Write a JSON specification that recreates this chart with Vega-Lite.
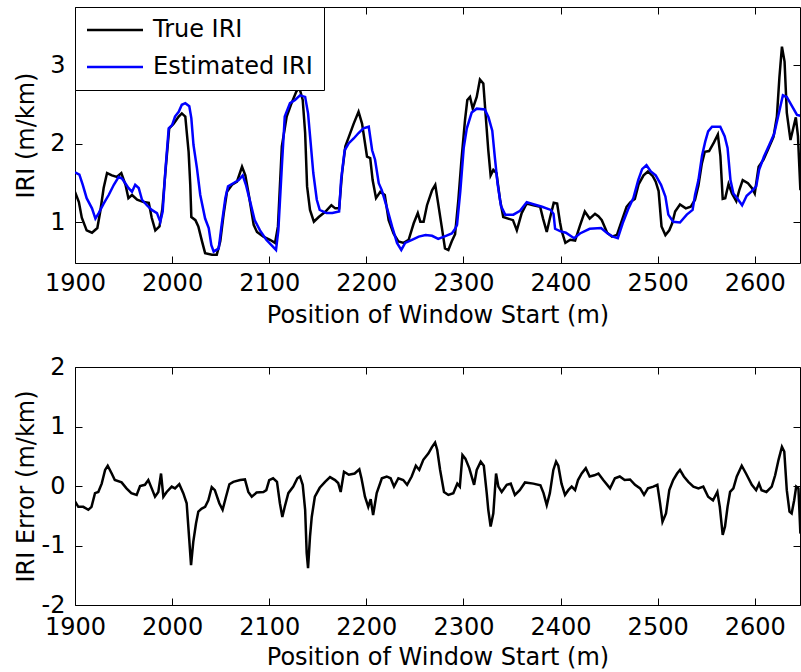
{
"$schema": "https://vega.github.io/schema/vega-lite/v6.json",
"background": "white",
"padding": {"left": 13, "top": 6, "right": 0, "bottom": 0},
"config": {
  "font": "DejaVu Sans",
  "view": {"stroke": "black", "strokeWidth": 1},
  "concat": {"spacing": 26},
  "axis": {"labelFont": "DejaVu Sans", "labelFontSize": 24, "labelColor": "black", "titleFont": "DejaVu Sans", "titleFontSize": 24, "titleFontWeight": "normal", "titleColor": "black", "tickColor": "black", "tickSize": -7, "tickWidth": 1, "grid": false, "domain": false, "labelFlush": false, "labelOverlap": false, "labelExpr": "'' + datum.value"}
},
"datasets": {
"iri": [
{"p":1900,"v":1.39,"s":"True IRI"},{"p":1904,"v":1.26,"s":"True IRI"},{"p":1907,"v":1.06,"s":"True IRI"},{"p":1912,"v":0.90,"s":"True IRI"},{"p":1917.5,"v":0.87,"s":"True IRI"},{"p":1923,"v":0.93,"s":"True IRI"},{"p":1926,"v":1.14,"s":"True IRI"},{"p":1929.5,"v":1.44,"s":"True IRI"},{"p":1933,"v":1.63,"s":"True IRI"},{"p":1938,"v":1.60,"s":"True IRI"},{"p":1943,"v":1.58,"s":"True IRI"},{"p":1947.7,"v":1.63,"s":"True IRI"},{"p":1952,"v":1.48,"s":"True IRI"},{"p":1955,"v":1.31,"s":"True IRI"},{"p":1958.7,"v":1.35,"s":"True IRI"},{"p":1964,"v":1.29,"s":"True IRI"},{"p":1970.7,"v":1.26,"s":"True IRI"},{"p":1976,"v":1.25,"s":"True IRI"},{"p":1979,"v":1.06,"s":"True IRI"},{"p":1982.7,"v":0.90,"s":"True IRI"},{"p":1987,"v":0.95,"s":"True IRI"},{"p":1990,"v":1.18,"s":"True IRI"},{"p":1993.7,"v":1.73,"s":"True IRI"},{"p":1997,"v":2.20,"s":"True IRI"},{"p":2001.6,"v":2.26,"s":"True IRI"},{"p":2006.8,"v":2.35,"s":"True IRI"},{"p":2010,"v":2.39,"s":"True IRI"},{"p":2013.6,"v":2.35,"s":"True IRI"},{"p":2015,"v":2.16,"s":"True IRI"},{"p":2017,"v":1.90,"s":"True IRI"},{"p":2018.7,"v":1.48,"s":"True IRI"},{"p":2019.8,"v":1.07,"s":"True IRI"},{"p":2024,"v":1.03,"s":"True IRI"},{"p":2027,"v":0.95,"s":"True IRI"},{"p":2030.8,"v":0.76,"s":"True IRI"},{"p":2034,"v":0.61,"s":"True IRI"},{"p":2041,"v":0.59,"s":"True IRI"},{"p":2046,"v":0.59,"s":"True IRI"},{"p":2049.6,"v":0.76,"s":"True IRI"},{"p":2053,"v":1.10,"s":"True IRI"},{"p":2056.5,"v":1.39,"s":"True IRI"},{"p":2061.7,"v":1.48,"s":"True IRI"},{"p":2066.8,"v":1.52,"s":"True IRI"},{"p":2072,"v":1.71,"s":"True IRI"},{"p":2075.4,"v":1.60,"s":"True IRI"},{"p":2079,"v":1.35,"s":"True IRI"},{"p":2084,"v":0.97,"s":"True IRI"},{"p":2087.4,"v":0.88,"s":"True IRI"},{"p":2094,"v":0.82,"s":"True IRI"},{"p":2100.8,"v":0.78,"s":"True IRI"},{"p":2106,"v":0.74,"s":"True IRI"},{"p":2109,"v":0.95,"s":"True IRI"},{"p":2113,"v":1.97,"s":"True IRI"},{"p":2118,"v":2.35,"s":"True IRI"},{"p":2123,"v":2.52,"s":"True IRI"},{"p":2128,"v":2.67,"s":"True IRI"},{"p":2131,"v":2.72,"s":"True IRI"},{"p":2134.5,"v":2.56,"s":"True IRI"},{"p":2137,"v":2.14,"s":"True IRI"},{"p":2139,"v":1.46,"s":"True IRI"},{"p":2142,"v":1.16,"s":"True IRI"},{"p":2146,"v":1.01,"s":"True IRI"},{"p":2151,"v":1.07,"s":"True IRI"},{"p":2158,"v":1.14,"s":"True IRI"},{"p":2164,"v":1.22,"s":"True IRI"},{"p":2168,"v":1.18,"s":"True IRI"},{"p":2172,"v":1.18,"s":"True IRI"},{"p":2175,"v":1.63,"s":"True IRI"},{"p":2178.4,"v":1.97,"s":"True IRI"},{"p":2182,"v":2.09,"s":"True IRI"},{"p":2187,"v":2.26,"s":"True IRI"},{"p":2192,"v":2.41,"s":"True IRI"},{"p":2195.6,"v":2.26,"s":"True IRI"},{"p":2200.7,"v":1.84,"s":"True IRI"},{"p":2204,"v":1.82,"s":"True IRI"},{"p":2206.5,"v":1.54,"s":"True IRI"},{"p":2210,"v":1.31,"s":"True IRI"},{"p":2214.4,"v":1.39,"s":"True IRI"},{"p":2219,"v":1.35,"s":"True IRI"},{"p":2223,"v":1.03,"s":"True IRI"},{"p":2228,"v":0.86,"s":"True IRI"},{"p":2233,"v":0.76,"s":"True IRI"},{"p":2238.5,"v":0.74,"s":"True IRI"},{"p":2243.6,"v":0.78,"s":"True IRI"},{"p":2248.8,"v":0.99,"s":"True IRI"},{"p":2253,"v":1.12,"s":"True IRI"},{"p":2255.6,"v":1.01,"s":"True IRI"},{"p":2259,"v":1.01,"s":"True IRI"},{"p":2262.5,"v":1.22,"s":"True IRI"},{"p":2267.7,"v":1.41,"s":"True IRI"},{"p":2271,"v":1.48,"s":"True IRI"},{"p":2274,"v":1.24,"s":"True IRI"},{"p":2277.6,"v":0.95,"s":"True IRI"},{"p":2281,"v":0.67,"s":"True IRI"},{"p":2284.5,"v":0.65,"s":"True IRI"},{"p":2288,"v":0.76,"s":"True IRI"},{"p":2291.4,"v":0.85,"s":"True IRI"},{"p":2294.8,"v":1.29,"s":"True IRI"},{"p":2298,"v":1.80,"s":"True IRI"},{"p":2301.6,"v":2.30,"s":"True IRI"},{"p":2304,"v":2.56,"s":"True IRI"},{"p":2306.8,"v":2.60,"s":"True IRI"},{"p":2309.6,"v":2.45,"s":"True IRI"},{"p":2313.7,"v":2.60,"s":"True IRI"},{"p":2317,"v":2.82,"s":"True IRI"},{"p":2320.5,"v":2.77,"s":"True IRI"},{"p":2323,"v":2.35,"s":"True IRI"},{"p":2325.6,"v":1.92,"s":"True IRI"},{"p":2328,"v":1.60,"s":"True IRI"},{"p":2330.8,"v":1.67,"s":"True IRI"},{"p":2334,"v":1.63,"s":"True IRI"},{"p":2337.7,"v":1.29,"s":"True IRI"},{"p":2341,"v":1.07,"s":"True IRI"},{"p":2346,"v":1.05,"s":"True IRI"},{"p":2351,"v":1.03,"s":"True IRI"},{"p":2355,"v":0.90,"s":"True IRI"},{"p":2360,"v":1.12,"s":"True IRI"},{"p":2365,"v":1.24,"s":"True IRI"},{"p":2372,"v":1.22,"s":"True IRI"},{"p":2379,"v":1.20,"s":"True IRI"},{"p":2382,"v":1.05,"s":"True IRI"},{"p":2385.8,"v":0.88,"s":"True IRI"},{"p":2389,"v":1.05,"s":"True IRI"},{"p":2393,"v":1.25,"s":"True IRI"},{"p":2396.5,"v":1.24,"s":"True IRI"},{"p":2399.5,"v":1.00,"s":"True IRI"},{"p":2401,"v":0.90,"s":"True IRI"},{"p":2405,"v":0.74,"s":"True IRI"},{"p":2410,"v":0.78,"s":"True IRI"},{"p":2415,"v":0.77,"s":"True IRI"},{"p":2420,"v":0.96,"s":"True IRI"},{"p":2425,"v":1.14,"s":"True IRI"},{"p":2430,"v":1.05,"s":"True IRI"},{"p":2435.5,"v":1.11,"s":"True IRI"},{"p":2439,"v":1.08,"s":"True IRI"},{"p":2442.5,"v":1.03,"s":"True IRI"},{"p":2448,"v":0.87,"s":"True IRI"},{"p":2453,"v":0.82,"s":"True IRI"},{"p":2458,"v":0.84,"s":"True IRI"},{"p":2463,"v":1.02,"s":"True IRI"},{"p":2468,"v":1.20,"s":"True IRI"},{"p":2472,"v":1.26,"s":"True IRI"},{"p":2476.5,"v":1.30,"s":"True IRI"},{"p":2480.5,"v":1.49,"s":"True IRI"},{"p":2485.5,"v":1.60,"s":"True IRI"},{"p":2490,"v":1.65,"s":"True IRI"},{"p":2495,"v":1.59,"s":"True IRI"},{"p":2498,"v":1.52,"s":"True IRI"},{"p":2501,"v":1.40,"s":"True IRI"},{"p":2504,"v":0.95,"s":"True IRI"},{"p":2508,"v":0.84,"s":"True IRI"},{"p":2512,"v":0.90,"s":"True IRI"},{"p":2515,"v":0.99,"s":"True IRI"},{"p":2518,"v":1.14,"s":"True IRI"},{"p":2523,"v":1.23,"s":"True IRI"},{"p":2529,"v":1.18,"s":"True IRI"},{"p":2534,"v":1.20,"s":"True IRI"},{"p":2538.5,"v":1.29,"s":"True IRI"},{"p":2542,"v":1.47,"s":"True IRI"},{"p":2545.5,"v":1.75,"s":"True IRI"},{"p":2548.5,"v":1.90,"s":"True IRI"},{"p":2553,"v":1.91,"s":"True IRI"},{"p":2558,"v":2.02,"s":"True IRI"},{"p":2562,"v":2.12,"s":"True IRI"},{"p":2564.6,"v":1.85,"s":"True IRI"},{"p":2567,"v":1.30,"s":"True IRI"},{"p":2569.6,"v":1.31,"s":"True IRI"},{"p":2573,"v":1.49,"s":"True IRI"},{"p":2576.5,"v":1.37,"s":"True IRI"},{"p":2581,"v":1.27,"s":"True IRI"},{"p":2584,"v":1.41,"s":"True IRI"},{"p":2587.6,"v":1.54,"s":"True IRI"},{"p":2593,"v":1.50,"s":"True IRI"},{"p":2597,"v":1.44,"s":"True IRI"},{"p":2600,"v":1.37,"s":"True IRI"},{"p":2604,"v":1.71,"s":"True IRI"},{"p":2609,"v":1.80,"s":"True IRI"},{"p":2614,"v":1.94,"s":"True IRI"},{"p":2619.3,"v":2.09,"s":"True IRI"},{"p":2622.8,"v":2.35,"s":"True IRI"},{"p":2625.4,"v":2.85,"s":"True IRI"},{"p":2628,"v":3.24,"s":"True IRI"},{"p":2630.7,"v":3.05,"s":"True IRI"},{"p":2633,"v":2.40,"s":"True IRI"},{"p":2636.8,"v":2.05,"s":"True IRI"},{"p":2640,"v":2.22,"s":"True IRI"},{"p":2642.3,"v":2.34,"s":"True IRI"},{"p":2644.5,"v":2.10,"s":"True IRI"},{"p":2647,"v":1.41,"s":"True IRI"},
{"p":1900,"v":1.64,"s":"Estimated IRI"},{"p":1904.5,"v":1.61,"s":"Estimated IRI"},{"p":1908,"v":1.48,"s":"Estimated IRI"},{"p":1912,"v":1.31,"s":"Estimated IRI"},{"p":1917.5,"v":1.18,"s":"Estimated IRI"},{"p":1921,"v":1.05,"s":"Estimated IRI"},{"p":1924.4,"v":1.12,"s":"Estimated IRI"},{"p":1929.5,"v":1.24,"s":"Estimated IRI"},{"p":1934.7,"v":1.35,"s":"Estimated IRI"},{"p":1940,"v":1.48,"s":"Estimated IRI"},{"p":1945,"v":1.58,"s":"Estimated IRI"},{"p":1948.4,"v":1.56,"s":"Estimated IRI"},{"p":1951.8,"v":1.50,"s":"Estimated IRI"},{"p":1955,"v":1.44,"s":"Estimated IRI"},{"p":1958.7,"v":1.39,"s":"Estimated IRI"},{"p":1962,"v":1.48,"s":"Estimated IRI"},{"p":1965.6,"v":1.44,"s":"Estimated IRI"},{"p":1969,"v":1.29,"s":"Estimated IRI"},{"p":1974,"v":1.22,"s":"Estimated IRI"},{"p":1979,"v":1.16,"s":"Estimated IRI"},{"p":1984.4,"v":1.12,"s":"Estimated IRI"},{"p":1987.8,"v":1.01,"s":"Estimated IRI"},{"p":1990.3,"v":1.14,"s":"Estimated IRI"},{"p":1993,"v":1.65,"s":"Estimated IRI"},{"p":1996.5,"v":2.20,"s":"Estimated IRI"},{"p":2000,"v":2.24,"s":"Estimated IRI"},{"p":2003,"v":2.35,"s":"Estimated IRI"},{"p":2006.8,"v":2.41,"s":"Estimated IRI"},{"p":2010,"v":2.50,"s":"Estimated IRI"},{"p":2013.6,"v":2.52,"s":"Estimated IRI"},{"p":2017.7,"v":2.48,"s":"Estimated IRI"},{"p":2019.8,"v":2.33,"s":"Estimated IRI"},{"p":2022,"v":1.99,"s":"Estimated IRI"},{"p":2025.6,"v":1.69,"s":"Estimated IRI"},{"p":2029,"v":1.35,"s":"Estimated IRI"},{"p":2034,"v":1.05,"s":"Estimated IRI"},{"p":2037.7,"v":0.93,"s":"Estimated IRI"},{"p":2040.4,"v":0.71,"s":"Estimated IRI"},{"p":2042.8,"v":0.63,"s":"Estimated IRI"},{"p":2048,"v":0.67,"s":"Estimated IRI"},{"p":2051,"v":0.97,"s":"Estimated IRI"},{"p":2054.8,"v":1.31,"s":"Estimated IRI"},{"p":2057.6,"v":1.46,"s":"Estimated IRI"},{"p":2063,"v":1.50,"s":"Estimated IRI"},{"p":2068.6,"v":1.54,"s":"Estimated IRI"},{"p":2072.7,"v":1.60,"s":"Estimated IRI"},{"p":2076,"v":1.48,"s":"Estimated IRI"},{"p":2080.5,"v":1.26,"s":"Estimated IRI"},{"p":2085,"v":1.03,"s":"Estimated IRI"},{"p":2090.5,"v":0.90,"s":"Estimated IRI"},{"p":2097,"v":0.78,"s":"Estimated IRI"},{"p":2104,"v":0.69,"s":"Estimated IRI"},{"p":2107,"v":0.65,"s":"Estimated IRI"},{"p":2109.4,"v":0.90,"s":"Estimated IRI"},{"p":2113,"v":1.71,"s":"Estimated IRI"},{"p":2116,"v":2.35,"s":"Estimated IRI"},{"p":2121.4,"v":2.52,"s":"Estimated IRI"},{"p":2126.6,"v":2.56,"s":"Estimated IRI"},{"p":2131.7,"v":2.62,"s":"Estimated IRI"},{"p":2137,"v":2.60,"s":"Estimated IRI"},{"p":2140,"v":2.39,"s":"Estimated IRI"},{"p":2142.7,"v":2.01,"s":"Estimated IRI"},{"p":2145.4,"v":1.63,"s":"Estimated IRI"},{"p":2149,"v":1.29,"s":"Estimated IRI"},{"p":2152,"v":1.16,"s":"Estimated IRI"},{"p":2159,"v":1.12,"s":"Estimated IRI"},{"p":2165,"v":1.12,"s":"Estimated IRI"},{"p":2172,"v":1.14,"s":"Estimated IRI"},{"p":2174,"v":1.54,"s":"Estimated IRI"},{"p":2177.7,"v":1.92,"s":"Estimated IRI"},{"p":2182,"v":2.01,"s":"Estimated IRI"},{"p":2187,"v":2.07,"s":"Estimated IRI"},{"p":2192,"v":2.14,"s":"Estimated IRI"},{"p":2197,"v":2.20,"s":"Estimated IRI"},{"p":2202.5,"v":2.22,"s":"Estimated IRI"},{"p":2206,"v":1.92,"s":"Estimated IRI"},{"p":2209,"v":1.80,"s":"Estimated IRI"},{"p":2212.8,"v":1.50,"s":"Estimated IRI"},{"p":2216,"v":1.41,"s":"Estimated IRI"},{"p":2221,"v":1.20,"s":"Estimated IRI"},{"p":2226.5,"v":0.95,"s":"Estimated IRI"},{"p":2231.6,"v":0.74,"s":"Estimated IRI"},{"p":2236,"v":0.65,"s":"Estimated IRI"},{"p":2240,"v":0.74,"s":"Estimated IRI"},{"p":2247,"v":0.78,"s":"Estimated IRI"},{"p":2254,"v":0.82,"s":"Estimated IRI"},{"p":2261,"v":0.84,"s":"Estimated IRI"},{"p":2267.7,"v":0.83,"s":"Estimated IRI"},{"p":2274,"v":0.79,"s":"Estimated IRI"},{"p":2282,"v":0.83,"s":"Estimated IRI"},{"p":2288,"v":0.86,"s":"Estimated IRI"},{"p":2291.5,"v":0.92,"s":"Estimated IRI"},{"p":2293.4,"v":0.97,"s":"Estimated IRI"},{"p":2296.8,"v":1.40,"s":"Estimated IRI"},{"p":2300.3,"v":1.95,"s":"Estimated IRI"},{"p":2303.5,"v":2.20,"s":"Estimated IRI"},{"p":2308.5,"v":2.40,"s":"Estimated IRI"},{"p":2313.7,"v":2.45,"s":"Estimated IRI"},{"p":2322,"v":2.44,"s":"Estimated IRI"},{"p":2325.8,"v":2.34,"s":"Estimated IRI"},{"p":2329.7,"v":2.17,"s":"Estimated IRI"},{"p":2332.2,"v":1.85,"s":"Estimated IRI"},{"p":2335.2,"v":1.49,"s":"Estimated IRI"},{"p":2338.7,"v":1.21,"s":"Estimated IRI"},{"p":2343,"v":1.10,"s":"Estimated IRI"},{"p":2351.4,"v":1.10,"s":"Estimated IRI"},{"p":2358.3,"v":1.15,"s":"Estimated IRI"},{"p":2365.2,"v":1.26,"s":"Estimated IRI"},{"p":2373,"v":1.23,"s":"Estimated IRI"},{"p":2381,"v":1.20,"s":"Estimated IRI"},{"p":2390,"v":1.16,"s":"Estimated IRI"},{"p":2392.8,"v":1.11,"s":"Estimated IRI"},{"p":2394.4,"v":0.92,"s":"Estimated IRI"},{"p":2399.5,"v":0.89,"s":"Estimated IRI"},{"p":2405.5,"v":0.87,"s":"Estimated IRI"},{"p":2414,"v":0.80,"s":"Estimated IRI"},{"p":2420,"v":0.86,"s":"Estimated IRI"},{"p":2430,"v":0.92,"s":"Estimated IRI"},{"p":2441.7,"v":0.93,"s":"Estimated IRI"},{"p":2448.5,"v":0.86,"s":"Estimated IRI"},{"p":2454,"v":0.82,"s":"Estimated IRI"},{"p":2459,"v":0.80,"s":"Estimated IRI"},{"p":2464,"v":0.99,"s":"Estimated IRI"},{"p":2470,"v":1.18,"s":"Estimated IRI"},{"p":2475,"v":1.31,"s":"Estimated IRI"},{"p":2480,"v":1.54,"s":"Estimated IRI"},{"p":2484,"v":1.68,"s":"Estimated IRI"},{"p":2488.5,"v":1.73,"s":"Estimated IRI"},{"p":2493,"v":1.65,"s":"Estimated IRI"},{"p":2498,"v":1.60,"s":"Estimated IRI"},{"p":2503.5,"v":1.48,"s":"Estimated IRI"},{"p":2508,"v":1.33,"s":"Estimated IRI"},{"p":2511,"v":1.10,"s":"Estimated IRI"},{"p":2516,"v":1.01,"s":"Estimated IRI"},{"p":2523,"v":1.00,"s":"Estimated IRI"},{"p":2530,"v":1.10,"s":"Estimated IRI"},{"p":2536,"v":1.16,"s":"Estimated IRI"},{"p":2538.5,"v":1.35,"s":"Estimated IRI"},{"p":2542,"v":1.54,"s":"Estimated IRI"},{"p":2545.7,"v":1.85,"s":"Estimated IRI"},{"p":2549,"v":2.03,"s":"Estimated IRI"},{"p":2552,"v":2.16,"s":"Estimated IRI"},{"p":2556,"v":2.22,"s":"Estimated IRI"},{"p":2564.5,"v":2.22,"s":"Estimated IRI"},{"p":2569,"v":2.10,"s":"Estimated IRI"},{"p":2572,"v":1.95,"s":"Estimated IRI"},{"p":2575,"v":1.54,"s":"Estimated IRI"},{"p":2578,"v":1.37,"s":"Estimated IRI"},{"p":2582.5,"v":1.30,"s":"Estimated IRI"},{"p":2587,"v":1.22,"s":"Estimated IRI"},{"p":2591.7,"v":1.34,"s":"Estimated IRI"},{"p":2597,"v":1.40,"s":"Estimated IRI"},{"p":2601.5,"v":1.46,"s":"Estimated IRI"},{"p":2604.5,"v":1.67,"s":"Estimated IRI"},{"p":2609.5,"v":1.84,"s":"Estimated IRI"},{"p":2615,"v":1.99,"s":"Estimated IRI"},{"p":2620,"v":2.13,"s":"Estimated IRI"},{"p":2625,"v":2.40,"s":"Estimated IRI"},{"p":2629,"v":2.62,"s":"Estimated IRI"},{"p":2633,"v":2.60,"s":"Estimated IRI"},{"p":2638.5,"v":2.48,"s":"Estimated IRI"},{"p":2643.5,"v":2.37,"s":"Estimated IRI"},{"p":2647,"v":2.36,"s":"Estimated IRI"}
],
"err": [
{"p":1900,"e":-0.26},{"p":1903.4,"e":-0.35},{"p":1908.5,"e":-0.35},{"p":1913.7,"e":-0.40},{"p":1917,"e":-0.35},{"p":1920.6,"e":-0.12},{"p":1924,"e":-0.10},{"p":1927.5,"e":0.04},{"p":1931,"e":0.27},{"p":1933.7,"e":0.34},{"p":1937.8,"e":0.21},{"p":1941,"e":0.10},{"p":1948,"e":0.06},{"p":1953,"e":-0.04},{"p":1958,"e":-0.12},{"p":1963.5,"e":-0.15},{"p":1967,"e":0.00},{"p":1972,"e":0.02},{"p":1975.5,"e":0.10},{"p":1979,"e":-0.04},{"p":1982.4,"e":-0.18},{"p":1985.8,"e":-0.10},{"p":1988.6,"e":0.21},{"p":1991,"e":-0.18},{"p":1994.4,"e":-0.10},{"p":1999.6,"e":-0.01},{"p":2003,"e":-0.04},{"p":2007.4,"e":0.03},{"p":2011.5,"e":-0.12},{"p":2015,"e":-0.29},{"p":2017.7,"e":-0.91},{"p":2019.5,"e":-1.33},{"p":2021.8,"e":-0.94},{"p":2024.6,"e":-0.63},{"p":2027,"e":-0.43},{"p":2030.5,"e":-0.38},{"p":2034,"e":-0.35},{"p":2037.3,"e":-0.24},{"p":2040.8,"e":-0.02},{"p":2044,"e":-0.07},{"p":2048.6,"e":-0.29},{"p":2052,"e":-0.40},{"p":2055.5,"e":-0.18},{"p":2059,"e":0.03},{"p":2063,"e":0.07},{"p":2070,"e":0.10},{"p":2075,"e":0.11},{"p":2078.5,"e":-0.10},{"p":2082,"e":-0.18},{"p":2087,"e":-0.11},{"p":2094,"e":-0.10},{"p":2097,"e":-0.07},{"p":2100,"e":0.10},{"p":2104,"e":0.13},{"p":2108,"e":0.07},{"p":2111,"e":-0.29},{"p":2113.5,"e":-0.52},{"p":2116,"e":-0.35},{"p":2119.7,"e":-0.12},{"p":2124.8,"e":-0.01},{"p":2129,"e":0.13},{"p":2131.7,"e":0.16},{"p":2134.5,"e":0.02},{"p":2137,"e":-0.40},{"p":2138.6,"e":-1.13},{"p":2140,"e":-1.38},{"p":2142,"e":-0.85},{"p":2143.8,"e":-0.52},{"p":2147,"e":-0.18},{"p":2152,"e":-0.03},{"p":2157.5,"e":0.07},{"p":2162.6,"e":0.15},{"p":2167.8,"e":0.10},{"p":2171,"e":0.05},{"p":2173.6,"e":-0.10},{"p":2177,"e":0.24},{"p":2182,"e":0.19},{"p":2188,"e":0.21},{"p":2192.8,"e":0.28},{"p":2195,"e":0.13},{"p":2198.6,"e":-0.18},{"p":2202,"e":-0.35},{"p":2204.5,"e":-0.22},{"p":2207,"e":-0.49},{"p":2210.7,"e":-0.12},{"p":2216,"e":0.13},{"p":2221,"e":0.16},{"p":2225,"e":0.13},{"p":2228.5,"e":-0.01},{"p":2233,"e":0.13},{"p":2238,"e":0.10},{"p":2242,"e":0.02},{"p":2246.7,"e":0.16},{"p":2251,"e":0.34},{"p":2254.5,"e":0.27},{"p":2258.7,"e":0.44},{"p":2264,"e":0.55},{"p":2267.4,"e":0.65},{"p":2270.8,"e":0.73},{"p":2273,"e":0.61},{"p":2276,"e":0.27},{"p":2280,"e":-0.10},{"p":2284.5,"e":-0.15},{"p":2289.6,"e":-0.12},{"p":2293.7,"e":0.04},{"p":2296.3,"e":-0.01},{"p":2299,"e":0.52},{"p":2302,"e":0.46},{"p":2306,"e":0.30},{"p":2311,"e":0.02},{"p":2313.7,"e":0.27},{"p":2317.8,"e":0.41},{"p":2321,"e":0.34},{"p":2324,"e":-0.12},{"p":2325.6,"e":-0.40},{"p":2328,"e":-0.68},{"p":2330.8,"e":-0.46},{"p":2333.6,"e":0.21},{"p":2336,"e":-0.01},{"p":2339.4,"e":-0.10},{"p":2344.6,"e":0.02},{"p":2348.7,"e":0.04},{"p":2353,"e":-0.15},{"p":2358,"e":-0.07},{"p":2363.4,"e":0.06},{"p":2372,"e":0.04},{"p":2379.3,"e":0.01},{"p":2382.5,"e":-0.12},{"p":2385.8,"e":-0.32},{"p":2389,"e":-0.12},{"p":2392.6,"e":0.27},{"p":2395.4,"e":0.41},{"p":2397.7,"e":0.34},{"p":2401,"e":0.04},{"p":2404.6,"e":-0.15},{"p":2408,"e":-0.07},{"p":2411.5,"e":-0.01},{"p":2415,"e":-0.07},{"p":2418,"e":0.10},{"p":2421.8,"e":0.21},{"p":2426,"e":0.30},{"p":2430,"e":0.16},{"p":2434.8,"e":0.18},{"p":2439,"e":0.21},{"p":2444,"e":0.10},{"p":2451,"e":-0.04},{"p":2456,"e":0.13},{"p":2461,"e":0.16},{"p":2466,"e":0.10},{"p":2471.6,"e":0.11},{"p":2476.7,"e":0.02},{"p":2482,"e":-0.04},{"p":2486,"e":-0.15},{"p":2490,"e":-0.04},{"p":2495.6,"e":-0.01},{"p":2499.7,"e":0.02},{"p":2502.5,"e":-0.29},{"p":2505,"e":-0.60},{"p":2508.6,"e":-0.46},{"p":2512,"e":-0.07},{"p":2516,"e":0.10},{"p":2520,"e":0.21},{"p":2523,"e":0.27},{"p":2527,"e":0.16},{"p":2531.6,"e":0.07},{"p":2536.8,"e":-0.01},{"p":2542,"e":-0.04},{"p":2547,"e":-0.01},{"p":2552,"e":-0.18},{"p":2557,"e":-0.24},{"p":2561.5,"e":-0.10},{"p":2564,"e":-0.35},{"p":2567,"e":-0.82},{"p":2569.4,"e":-0.68},{"p":2572,"e":-0.35},{"p":2574.6,"e":-0.10},{"p":2578,"e":-0.04},{"p":2581.5,"e":0.16},{"p":2586.6,"e":0.34},{"p":2591,"e":0.21},{"p":2597,"e":0.02},{"p":2601.4,"e":-0.07},{"p":2604.4,"e":0.04},{"p":2607,"e":-0.07},{"p":2612,"e":-0.10},{"p":2617.5,"e":-0.01},{"p":2621,"e":0.18},{"p":2624.5,"e":0.44},{"p":2628,"e":0.66},{"p":2630.4,"e":0.58},{"p":2633,"e":-0.07},{"p":2635.8,"e":-0.43},{"p":2638,"e":-0.46},{"p":2640.6,"e":-0.24},{"p":2642.7,"e":-0.01},{"p":2645,"e":-0.04},{"p":2647,"e":-0.80}
]
},
"vconcat": [
{
  "width": 725, "height": 256,
  "data": {"name": "iri"},
  "layer": [
    {
      "mark": {"type": "line", "strokeWidth": 2.5, "clip": true},
      "encoding": {
        "x": {"field": "p", "type": "quantitative", "scale": {"domain": [1900, 2646.6], "nice": false, "zero": false},
              "axis": {"orient": "bottom", "values": [1900,2000,2100,2200,2300,2400,2500,2600], "title": "Position of Window Start (m)", "labelPadding": 15, "titlePadding": 8}},
        "y": {"field": "v", "type": "quantitative", "scale": {"domain": [0.484, 3.745], "nice": false, "zero": false},
              "axis": {"orient": "left", "values": [1,2,3], "title": "IRI (m/km)", "labelPadding": 17, "titleX": -37}},
        "color": {"field": "s", "type": "nominal", "sort": ["True IRI","Estimated IRI"],
                  "scale": {"domain": ["True IRI","Estimated IRI"], "range": ["#000000","#0000ff"]},
                  "legend": {"orient": "top-left", "offset": 0, "title": null, "symbolType": "M-1.1,0H4.5", "symbolSize": 400, "symbolStrokeWidth": 2.5, "labelFontSize": 24, "labelFont": "DejaVu Sans", "labelColor": "black", "labelOffset": 43, "padding": 11, "rowPadding": 13, "strokeColor": "black", "fillColor": "white", "cornerRadius": 0, "labelLimit": 0}}
      }
    },
    {
      "mark": {"type": "line", "opacity": 0, "clip": true},
      "encoding": {
        "x": {"field": "p", "type": "quantitative", "axis": {"orient": "top", "values": [1900,2000,2100,2200,2300,2400,2500,2600], "labels": false, "title": null}},
        "y": {"field": "v", "type": "quantitative", "axis": {"orient": "right", "values": [1,2,3], "labels": false, "title": null}},
        "detail": {"field": "s"}
      }
    }
  ]
},
{
  "width": 725, "height": 238,
  "data": {"name": "err"},
  "layer": [
    {
      "mark": {"type": "line", "strokeWidth": 2.5, "color": "black", "clip": true},
      "encoding": {
        "x": {"field": "p", "type": "quantitative", "scale": {"domain": [1900, 2646.6], "nice": false, "zero": false},
              "axis": {"orient": "bottom", "values": [1900,2000,2100,2200,2300,2400,2500,2600], "title": "Position of Window Start (m)", "labelPadding": 17, "titlePadding": 6}},
        "y": {"field": "e", "type": "quantitative", "scale": {"domain": [-2, 2], "nice": false, "zero": false},
              "axis": {"orient": "left", "values": [-2,-1,0,1,2], "title": "IRI Error (m/km)", "labelPadding": 17, "titleX": -37}}
      }
    },
    {
      "mark": {"type": "line", "opacity": 0, "clip": true},
      "encoding": {
        "x": {"field": "p", "type": "quantitative", "axis": {"orient": "top", "values": [1900,2000,2100,2200,2300,2400,2500,2600], "labels": false, "title": null}},
        "y": {"field": "e", "type": "quantitative", "axis": {"orient": "right", "values": [-2,-1,0,1,2], "labels": false, "title": null}}
      }
    }
  ]
}
]
}
